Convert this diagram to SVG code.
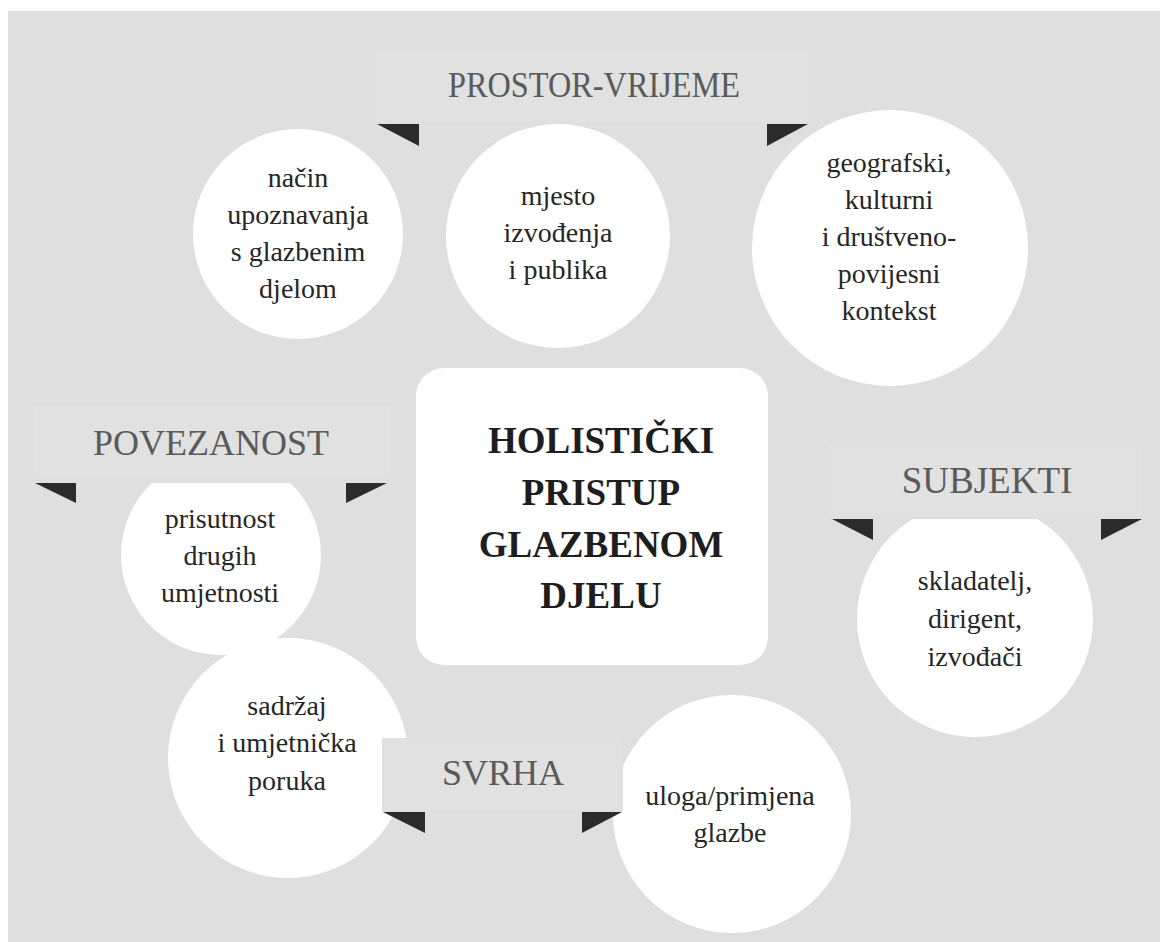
<svg xmlns="http://www.w3.org/2000/svg" width="1160" height="942" viewBox="0 0 1160 942">
<style>
.bg{fill:#dfdfdf}
.bubble{fill:#ffffff}
.cover{fill:#dfdfdf}
.band{fill:#e1e1e1}
.fold{fill:#2b2b2b}
text{font-family:'Liberation Serif','Tinos','Times New Roman','DejaVu Serif',serif}
.t{font-size:28px;fill:#262626;text-anchor:middle}
.h{font-size:36px;fill:#5a5a5a;text-anchor:middle}
.c{font-size:37px;font-weight:bold;fill:#1e1e1e;text-anchor:middle}
</style>
<rect x="0" y="0" width="1160" height="942" fill="#ffffff"/>
<rect class="bg" x="8" y="11" width="1152" height="931"/>

<g id="node-nacin">
<circle class="bubble" cx="298" cy="234" r="105"/>
<text class="t" x="298" y="187">način</text>
<text class="t" x="298" y="224">upoznavanja</text>
<text class="t" x="298" y="261">s glazbenim</text>
<text class="t" x="298" y="298">djelom</text>
</g>
<g id="node-mjesto">
<circle class="bubble" cx="558" cy="236" r="112"/>
<text class="t" x="558" y="205">mjesto</text>
<text class="t" x="558" y="242">izvođenja</text>
<text class="t" x="558" y="279">i publika</text>
</g>
<g id="node-kontekst">
<circle class="bubble" cx="890" cy="248" r="138"/>
<text class="t" x="889" y="172">geografski,</text>
<text class="t" x="889" y="209">kulturni</text>
<text class="t" x="889" y="246">i društveno-</text>
<text class="t" x="889" y="283">povijesni</text>
<text class="t" x="889" y="320">kontekst</text>
</g>
<g id="node-prisutnost">
<circle class="bubble" cx="221" cy="555" r="100"/>
<text class="t" x="220" y="528">prisutnost</text>
<text class="t" x="220" y="565">drugih</text>
<text class="t" x="220" y="602">umjetnosti</text>
</g>
<g id="node-sadrzaj">
<circle class="bubble" cx="288" cy="758" r="120"/>
<text class="t" x="287" y="715">sadržaj</text>
<text class="t" x="287" y="752">i umjetnička</text>
<text class="t" x="287" y="790">poruka</text>
</g>
<g id="node-uloga">
<circle class="bubble" cx="732" cy="814" r="119"/>
<text class="t" x="730" y="805">uloga/primjena</text>
<text class="t" x="730" y="842">glazbe</text>
</g>
<g id="node-subjekti">
<circle class="bubble" cx="975" cy="619" r="118"/>
<text class="t" x="975" y="590">skladatelj,</text>
<text class="t" x="975" y="628">dirigent,</text>
<text class="t" x="975" y="666">izvođači</text>
</g>

<g id="node-center">
<rect class="bubble" x="416" y="368" width="352" height="297" rx="28" ry="28"/>
<text class="c" x="601" y="453">HOLISTIČKI</text>
<text class="c" x="601" y="505">PRISTUP</text>
<text class="c" x="601" y="557">GLAZBENOM</text>
<text class="c" x="601" y="608">DJELU</text>
</g>

<g id="banner-prostor">
<rect class="cover" x="373" y="48" width="440" height="76"/>
<rect class="band" x="374" y="49" width="438" height="73"/>
<polygon class="fold" points="377,124 419,124 419,146"/>
<polygon class="fold" points="767,124 808,124 767,146"/>
<text class="h" x="594" y="97" font-size="34" textLength="292" lengthAdjust="spacingAndGlyphs">PROSTOR-VRIJEME</text>
</g>
<g id="banner-povezanost">
<rect class="cover" x="32" y="405" width="360" height="78"/>
<rect class="band" x="33" y="406" width="358" height="73"/>
<polygon class="fold" points="35,483 76,483 76,503"/>
<polygon class="fold" points="346,483 387,483 346,503"/>
<text class="h" x="211" y="455">POVEZANOST</text>
</g>
<g id="banner-subjekti">
<rect class="cover" x="827" y="443" width="316" height="76"/>
<rect class="band" x="828" y="444" width="314" height="72"/>
<polygon class="fold" points="832,519 873,519 873,540"/>
<polygon class="fold" points="1101,519 1142,519 1101,540"/>
<text class="h" x="987" y="493" style="font-size:37px">SUBJEKTI</text>
</g>
<g id="banner-svrha">
<rect class="cover" x="382" y="738" width="241" height="74"/>
<rect class="band" x="383" y="739" width="239" height="71"/>
<polygon class="fold" points="383,812 425,812 425,833"/>
<polygon class="fold" points="582,812 622,812 582,833"/>
<text class="h" x="503" y="785">SVRHA</text>
</g>
</svg>
